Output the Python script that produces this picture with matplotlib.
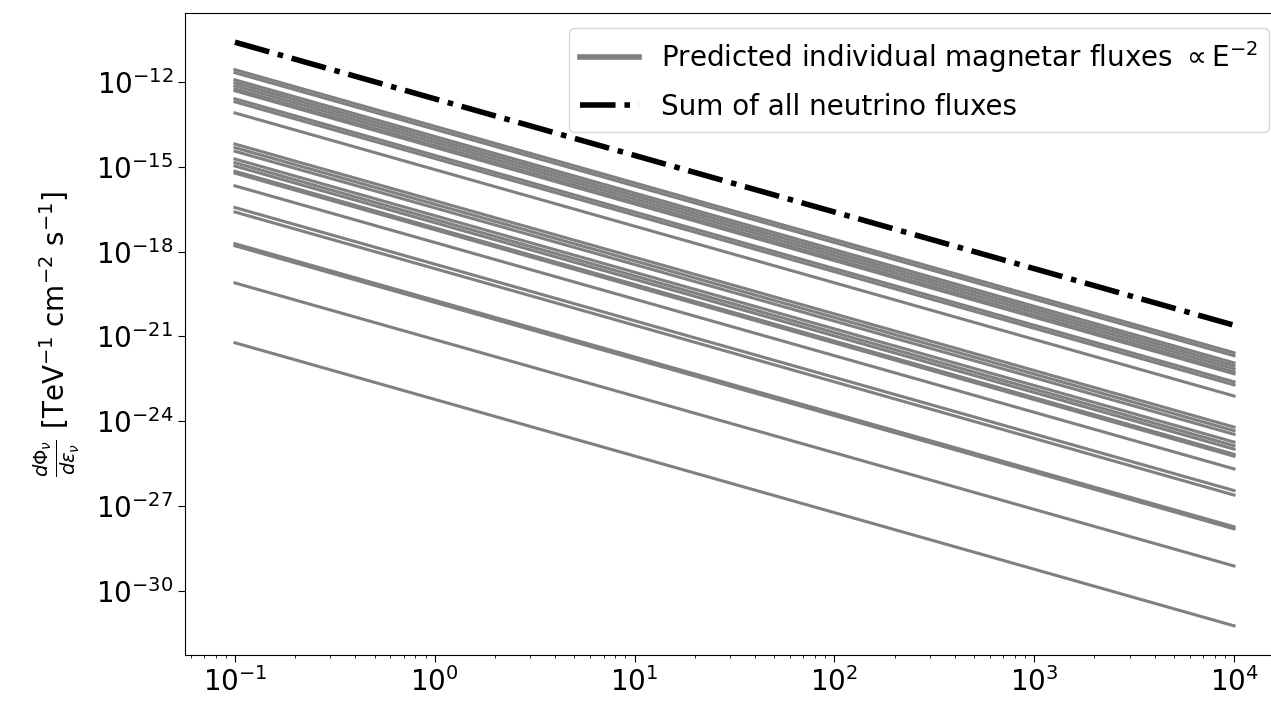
import numpy as np
import matplotlib
matplotlib.use('Agg')
import matplotlib.pyplot as plt
from matplotlib.ticker import NullLocator

# energy range of every line [TeV]
energy = [0.1, 1e4]

# individual magnetar fluxes at E = 0.1 TeV and E = 1e4 TeV
flux_lo = [2.67e-12, 2.09e-12, 1.17e-12, 9.2e-13, 7.2e-13, 5.6e-13, 4.8e-13,
           2.5e-13, 1.95e-13, 7.9e-14, 6.3e-15, 4.7e-15, 3.5e-15, 1.86e-15,
           1.38e-15, 1.05e-15, 6.9e-16, 5.9e-16, 2.1e-16, 3.6e-17, 2.5e-17,
           1.9e-18, 1.6e-18, 7.8e-20, 6.0e-22]
flux_hi = [2.67e-22, 2.09e-22, 1.17e-22, 9.2e-23, 7.2e-23, 5.6e-23, 4.8e-23,
           2.5e-23, 1.95e-23, 7.9e-24, 6.3e-25, 4.7e-25, 3.5e-25, 1.86e-25,
           1.38e-25, 1.05e-25, 6.9e-26, 5.9e-26, 2.1e-26, 3.6e-27, 2.5e-27,
           1.9e-28, 1.6e-28, 7.8e-30, 6.0e-32]

# summed flux
sum_lo = 2.5e-11
sum_hi = 2.5e-21

yticks = [1e-12, 1e-15, 1e-18, 1e-21, 1e-24, 1e-27, 1e-30]

fig = plt.figure(figsize=(12.71, 7.10), dpi=100)
ax = fig.add_axes([185/1271, 1-655/710, 1099/1271, 642/710])

for i in range(len(flux_lo)):
  lab = r'Predicted individual magnetar fluxes $\propto \mathrm{E}^{-2}$' if i == 0 else None
  ax.plot(energy, [flux_lo[i], flux_hi[i]], color='grey', lw=2.2, label=lab)
ax.plot(energy, [sum_lo, sum_hi], color='black', lw=4, ls='-.',
        label='Sum of all neutrino fluxes')

ax.set_xscale('log')
ax.set_yscale('log')
ax.set_yticks(yticks)
ax.yaxis.set_minor_locator(NullLocator())
ax.spines['right'].set_visible(False)
ax.tick_params(labelsize=20, length=5)
ax.set_ylabel(r'$\frac{d\Phi_\nu}{d\epsilon_\nu}$ [TeV$^{-1}$ cm$^{-2}$ s$^{-1}$]',
              fontsize=20, labelpad=10)

leg = ax.legend(fontsize=20, loc='upper right', bbox_to_anchor=(1269/1271, 1-28/710),
                bbox_transform=fig.transFigure, borderaxespad=0, handlelength=2.1,
                labelspacing=0.65)
for h in leg.legend_handles:
  h.set_linewidth(4)

fig.savefig('out.png', dpi=100)
